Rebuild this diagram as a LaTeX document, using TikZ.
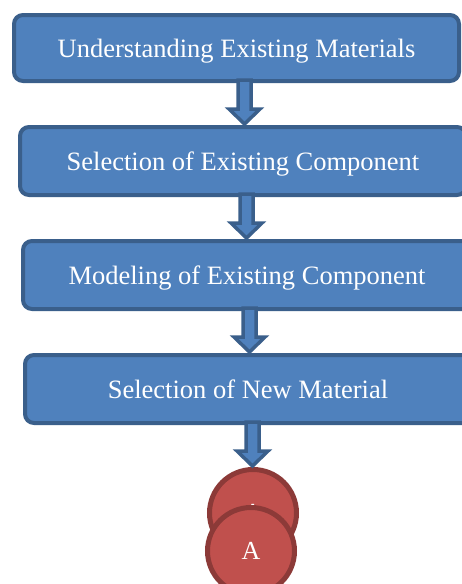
\documentclass[tikz,border=0pt]{standalone}
\usepackage{fontspec}
\setmainfont{Liberation Serif}
\usetikzlibrary{calc}
\definecolor{boxfill}{HTML}{4F81BD}
\definecolor{boxline}{HTML}{3A5F8B}
\definecolor{endfill}{HTML}{C0504D}
\definecolor{endline}{HTML}{8C3A38}
\tikzset{
  flowbox/.style={draw=boxline, fill=boxfill, line width=4pt, rounded corners=9pt,
    text=white, font=\fontsize{26.5}{30}\selectfont, text depth=0pt, minimum height=68pt},
  flowarrow/.style={draw=boxline, fill=boxfill, line width=3.5pt},
  endcircle/.style={circle, draw=endline, fill=endfill, line width=5pt,
    minimum size=87pt, inner sep=0pt, text=white, font=\fontsize{26}{30}\selectfont}
}
\begin{document}
\begin{tikzpicture}[x=1pt, y=-1pt]
  \clip (0,0) rectangle (462,584);
  \node[flowbox, minimum width=445pt, minimum height=66pt] (s1) at (236.5,48) {Understanding Existing Materials};
  \node[flowbox, minimum width=446pt] (s2) at (243,161) {Selection of Existing Component};
  \node[flowbox, minimum width=448pt] (s3) at (247,275) {Modeling of Existing Component};
  \node[flowbox, minimum width=446pt] (s4) at (248,389) {Selection of New Material};
  \node[endcircle] (c1) at (253,513) {A};
  % block arrows between the steps
  \foreach \from/\to/\ax in {s1/s2/244.5, s2/s3/246.5, s3/s4/249.5, s4/c1/252.5}
    \draw[flowarrow] let \p1=(\from.south), \p2=(\to.north) in
      (\ax pt-6.5pt,\y1+3pt) -- (\ax pt-6.5pt,\y2+16pt) -- (\ax pt-15.5pt,\y2+16pt) -- (\ax pt,\y2+1pt)
      -- (\ax pt+15.5pt,\y2+16pt) -- (\ax pt+6.5pt,\y2+16pt) -- (\ax pt+6.5pt,\y1+3pt) -- cycle;
  \node[endcircle] (c2) at (251,551) {A};
\end{tikzpicture}
\end{document}
